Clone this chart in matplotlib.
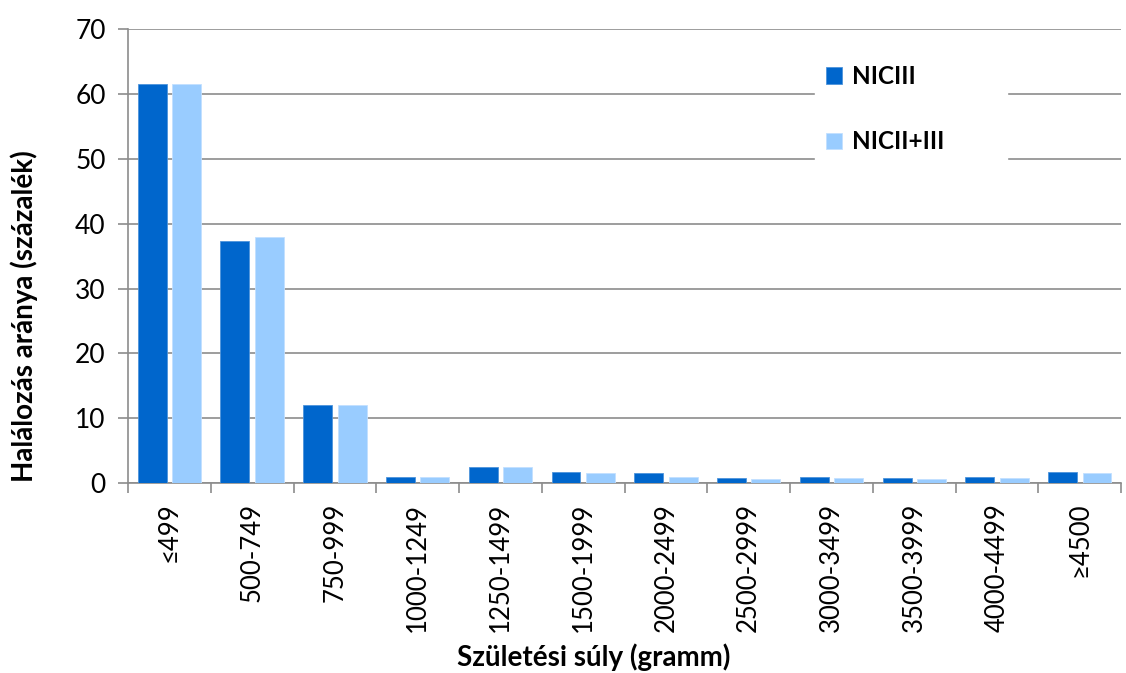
import matplotlib
matplotlib.use('Agg')
import matplotlib.pyplot as plt
import numpy as np

plt.rcParams['font.family'] = ['Lato', 'DejaVu Sans']

categories = ['≤499', '500-749', '750-999', '1000-1249', '1250-1499', '1500-1999',
              '2000-2499', '2500-2999', '3000-3499', '3500-3999', '4000-4499', '≥4500']
nic3 = [61.5, 37.3, 12.0, 1.0, 2.5, 1.7, 1.5, 0.8, 1.0, 0.8, 1.0, 1.8]
nic23 = [61.5, 37.9, 12.0, 1.0, 2.5, 1.5, 1.0, 0.65, 0.8, 0.6, 0.8, 1.6]

dark = '#0066CC'
light = '#99CCFF'
grid_c = '#8c8c8c'

fig = plt.figure(figsize=(11.26, 6.73), dpi=100)
ax = fig.add_axes([0.1137, 0.282, 0.882, 0.675])

x = np.arange(len(categories))
ax.bar(x - 0.208, nic3, width=0.35, color=dark, edgecolor='#4d94db', linewidth=0.6,
       label='NICIII', zorder=3)
ax.bar(x + 0.208, nic23, width=0.35, color=light, edgecolor='#c2e0ff', linewidth=0.6,
       label='NICII+III', zorder=3)

ax.set_xlim(-0.5, len(categories) - 0.5)
ax.set_ylim(0, 70)
ax.set_yticks(np.arange(0, 71, 10))
ax.yaxis.grid(True, color=grid_c, linewidth=1.2, zorder=0)
ax.set_axisbelow(True)

ax.set_xticks(x)
ax.set_xticklabels(categories, rotation=90, fontsize=18.5)
ax.set_xticks(np.arange(-0.5, len(categories), 1), minor=True)
ax.tick_params(axis='x', which='major', length=0, pad=14)
ax.tick_params(axis='x', which='minor', length=7, color=grid_c, width=1.2)
ax.tick_params(axis='y', length=7, color=grid_c, width=1.2, labelsize=19, pad=9)

for s in ['top', 'right']:
    ax.spines[s].set_visible(False)
for s in ['left', 'bottom']:
    ax.spines[s].set_color(grid_c)
    ax.spines[s].set_linewidth(1.2)

ax.set_ylabel('Halálozás aránya (százalék)', fontsize=20, fontweight='bold')
ax.yaxis.set_label_coords(-0.091, 0.368)
ax.set_xlabel('Születési súly (gramm)', fontsize=20, fontweight='bold')
ax.xaxis.set_label_coords(0.469, -0.352)

leg_h = 150 / 673
leg = fig.legend(loc='upper left',
                 bbox_to_anchor=(815 / 1126, 1 - 54 / 673 - leg_h, 192 / 1126, leg_h),
                 mode='expand', borderaxespad=0, frameon=True, fancybox=False,
                 edgecolor='white', facecolor='white', framealpha=1,
                 handlelength=0.66, handleheight=0.66, handletextpad=0.4,
                 labelspacing=1.75, borderpad=0.45,
                 prop={'weight': 'bold', 'size': 17.5})
leg.set_zorder(5)

fig.savefig('out.png', dpi=100)
